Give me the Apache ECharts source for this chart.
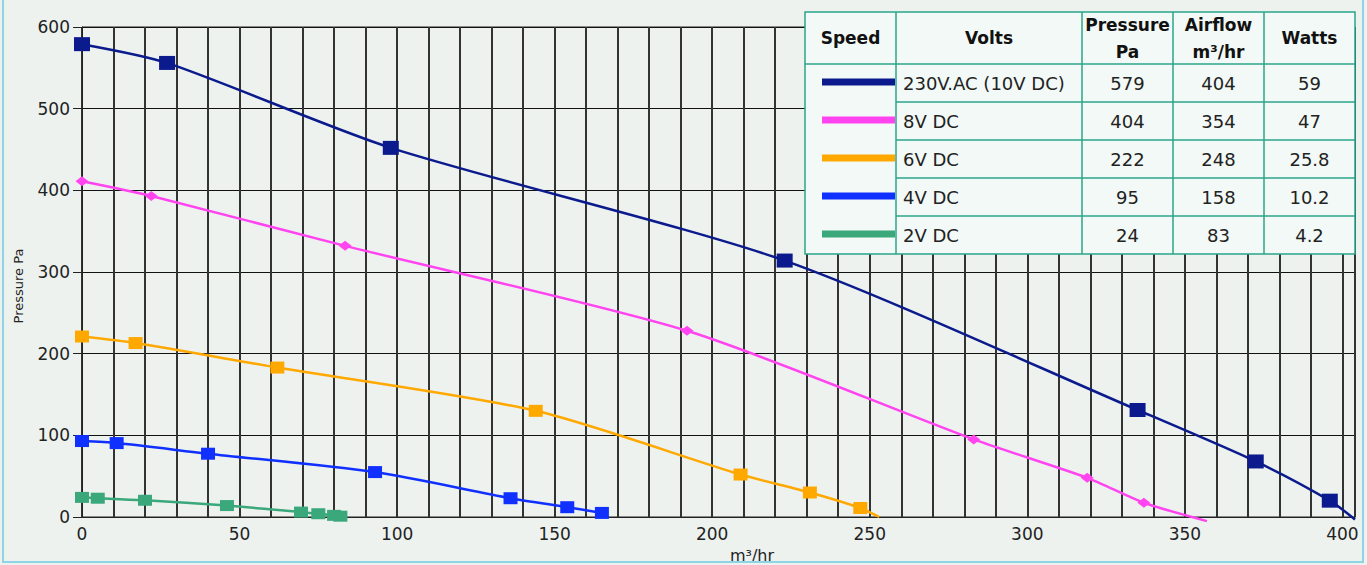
<!DOCTYPE html>
<html><head><meta charset="utf-8">
<script src="https://cdn.jsdelivr.net/npm/echarts@6/dist/echarts.min.js"></script>
<style>html,body{margin:0;padding:0;background:#EDF2EF}#c{width:1367px;height:565px}</style>
</head><body><div id="c"></div>
<script>
// ---- data ----
const navyPts   = [[0,579],[27,556],[98,452],[223,314],[335,131],[372.5,68],[396,20]];
const navyEnd   = [404,-3];
const pinkPts   = [[0,411],[22,393],[83.5,332],[192,228],[283,95],[319,48],[337,17.5]];
const pinkEnd   = [357,-5];
const orangePts = [[0,221],[17,213],[62,183],[144,130],[209,52],[231,30],[247,11]];
const orangeEnd = [253,0];
const bluePts   = [[0,93],[11,90.5],[40,77.5],[93,55],[136,23],[154,12],[165,5]];
const greenPts  = [[0,24],[5,23],[20,20.5],[46,14],[69.5,6],[75,4],[80,2],[82,1]];

const xLabelStep = 50;
const tableHeaders = ['Speed','Volts','Pressure\nPa','Airflow\nm³/hr','Watts'];
const volts     = ['230V.AC (10V DC)','8V DC','6V DC','4V DC','2V DC'];
const pressures = ['579','404','222','95','24'];
const airflows  = ['404','354','248','158','83'];
const watts     = ['59','47','25.8','10.2','4.2'];
const colors    = ['#0B1A8C','#FF44F0','#FFA800','#1030FF','#3AA87A'];

// ---- chart ----
const chart = echarts.init(document.getElementById('c'), null, {renderer:'svg'});
const txt = '#222';
const font = 'DejaVu Sans';

function mk(pts, end){
  const d = pts.map(p => p.slice());
  if (end) d.push({value:end, symbol:'none'});
  return d;
}
function line(name, data, color, symbol, size){
  return {
    name, type:'line', data, smooth:0.25, clip:false,
    symbol, symbolSize:size, showSymbol:true,
    lineStyle:{color, width:2.5}, itemStyle:{color},
    z: 3
  };
}

// table graphic
const colB = [805, 896, 1082, 1173, 1264, 1355];
const top0 = 12, headH = 52, rowH = 38;
const g = [];
g.push({type:'rect', shape:{x:3, y:-5, width:1360, height:567}, style:{fill:'none', stroke:'#8ED4E6', lineWidth:2}, z:100});
const tH = headH + rowH*volts.length;
g.push({type:'rect', shape:{x:colB[0], y:top0, width:colB[5]-colB[0], height:tH}, style:{fill:'#F2F9F6', stroke:'#2AA58A', lineWidth:1.5}, z:100});
for (let i=1;i<colB.length-1;i++){
  g.push({type:'line', shape:{x1:colB[i], y1:top0, x2:colB[i], y2:top0+tH}, style:{stroke:'#2AA58A', lineWidth:1.5}, z:101});
}
for (let r=0;r<volts.length;r++){
  const y = top0+headH+rowH*r;
  g.push({type:'line', shape:{x1:(r===0?colB[0]:colB[1]), y1:y, x2:colB[5], y2:y}, style:{stroke:'#2AA58A', lineWidth:1.5}, z:101});
}
tableHeaders.forEach((h,i)=>{
  g.push({type:'text', x:(colB[i]+colB[i+1])/2, y:top0+headH/2, z:102,
    style:{text:h, fill:'#111', font:'bold 17px "DejaVu Sans"', textAlign:'center', textVerticalAlign:'middle', lineHeight:27}});
});
volts.forEach((v,r)=>{
  const cy = top0+headH+rowH*r+rowH/2;
  g.push({type:'line', shape:{x1:822, y1:cy-1, x2:895, y2:cy-1}, style:{stroke:colors[r], lineWidth:7}, z:102});
  g.push({type:'text', x:colB[1]+7, y:cy, z:102, style:{text:v, fill:txt, font:'18px "DejaVu Sans"', textAlign:'left', textVerticalAlign:'middle'}});
  [pressures[r], airflows[r], watts[r]].forEach((t,k)=>{
    g.push({type:'text', x:(colB[k+2]+colB[k+3])/2, y:cy, z:102, style:{text:t, fill:txt, font:'18px "DejaVu Sans"', textAlign:'center', textVerticalAlign:'middle'}});
  });
});
g.push({type:'text', x:18, y:286, rotation:Math.PI/2, z:50,
  style:{text:'Pressure Pa', fill:txt, font:'13px "DejaVu Sans"', textAlign:'center', textVerticalAlign:'middle'}});
g.push({type:'text', x:752, y:555, z:50,
  style:{text:'m³/hr', fill:txt, font:'16px "DejaVu Sans"', textAlign:'center', textVerticalAlign:'middle'}});

chart.setOption({
  backgroundColor:'#EDF2EF',
  animation:false,
  grid:{left:82, top:27, right:12, bottom:48, show:true, borderColor:'#222', borderWidth:1},
  xAxis:{
    type:'value', min:0, max:404, interval:10,
    axisLine:{show:true, lineStyle:{color:'#222', width:1}},
    axisTick:{show:false},
    axisLabel:{color:txt, fontFamily:font, fontSize:17, margin:8, showMaxLabel:false,
      formatter:v => (v % xLabelStep === 0 ? String(v) : '')},
    splitLine:{show:true, lineStyle:{color:'#333', width:2}}
  },
  yAxis:{
    type:'value', min:0, max:600, interval:100,
    axisLine:{show:true, lineStyle:{color:'#222', width:1}},
    axisTick:{show:true, inside:false, length:9, lineStyle:{color:'#222'}},
    axisLabel:{color:txt, fontFamily:font, fontSize:17, margin:12},
    splitLine:{show:true, lineStyle:{color:'#111', width:1.2}}
  },
  graphic: g,
  series:[
    line('230V.AC (10V DC)', mk(navyPts, navyEnd), colors[0], 'rect', [16,14]),
    line('8V DC', mk(pinkPts, pinkEnd), colors[1], 'diamond', [13,10]),
    line('6V DC', mk(orangePts, orangeEnd), colors[2], 'rect', [14,12]),
    line('4V DC', mk(bluePts), colors[3], 'rect', [14,12]),
    line('2V DC', mk(greenPts), colors[4], 'rect', [14,11])
  ]
});
</script></body></html>
